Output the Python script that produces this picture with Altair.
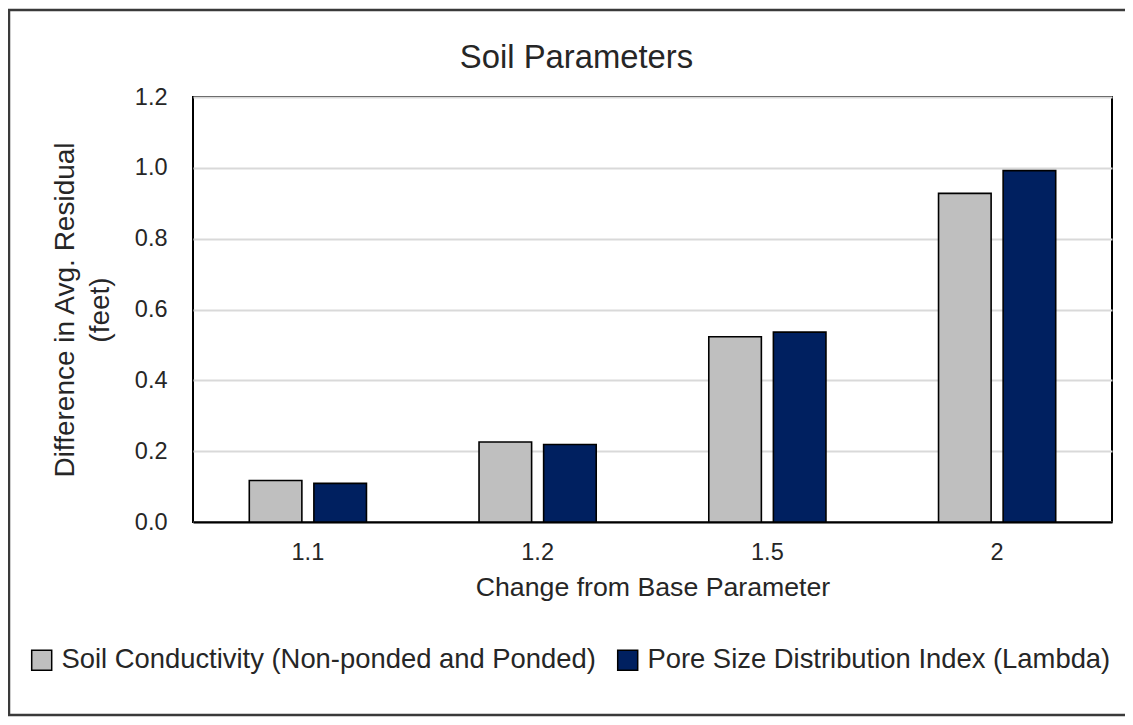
import altair as alt
import pandas as pd

categories = ["1.1", "1.2", "1.5", "2"]
series_names = ["Soil Conductivity (Non-ponded and Ponded)",
                "Pore Size Distribution Index (Lambda)"]
soil_conductivity = [0.117, 0.226, 0.523, 0.928]
pore_size_index = [0.109, 0.219, 0.536, 0.992]
y_ticks = [0.0, 0.2, 0.4, 0.6, 0.8, 1.0, 1.2]
colors = ["#BFBFBF", "#002060"]

rows = []
for i, c in enumerate(categories):
    rows.append({"Change": c, "Series": series_names[0], "Value": soil_conductivity[i]})
    rows.append({"Change": c, "Series": series_names[1], "Value": pore_size_index[i]})
df = pd.DataFrame(rows)

FONT = "Liberation Sans"
TXT = "#262626"

bars = alt.Chart(df).mark_bar(stroke="black", strokeWidth=1.6).encode(
    x=alt.X("Change:N", sort=categories,
            scale=alt.Scale(paddingInner=0.49, paddingOuter=0.245),
            axis=alt.Axis(title="Change from Base Parameter", labelAngle=0,
                          labelFontSize=23.5, labelPadding=18, labelColor=TXT,
                          ticks=False, domainColor="black", domainWidth=2,
                          titleFontSize=26.7, titleFontWeight="normal", titleColor=TXT,
                          titleBaseline="alphabetic", titleY=73, grid=False)),
    xOffset=alt.XOffset("Series:N", sort=series_names,
                        scale=alt.Scale(paddingInner=0.186, paddingOuter=0)),
    y=alt.Y("Value:Q",
            scale=alt.Scale(domain=[0, 1.2], nice=False),
            axis=alt.Axis(values=y_ticks, format=".1f", labelFontSize=23.5,
                          labelPadding=26, labelColor=TXT, ticks=False, domain=False,
                          grid=True, gridColor="#D9D9D9", gridWidth=2,
                          title=["Difference in Avg. Residual", "(feet)"],
                          titleFontSize=28, titleFontWeight="normal", titleColor=TXT,
                          titleAngle=270, titleX=-128, titleY=212.5,
                          titleBaseline="middle", titleAlign="center",
                          titleLineHeight=35)),
    color=alt.Color("Series:N", sort=series_names,
                    scale=alt.Scale(domain=series_names, range=colors),
                    legend=alt.Legend(title=None, orient="none", legendX=-165, legendY=549,
                                      direction="horizontal", symbolType="square",
                                      symbolSize=400, symbolStrokeColor="black",
                                      symbolStrokeWidth=1.5, labelFontSize=27.4,
                                      labelColor=TXT, labelLimit=2000, labelOffset=6,
                                      columnPadding=18)),
)

border = alt.Chart(alt.Data(values=[{}])).mark_rect(
    filled=False, stroke="#3a3a3a", strokeWidth=2.5
).encode(
    x=alt.value(-184), x2=alt.value(980), y=alt.value(-87), y2=alt.value(618)
)

chart = alt.layer(bars, border).properties(
    width=919, height=425,
    autosize=alt.AutoSizeParams(type="none"),
    padding={"left": 185, "top": 89, "right": 13, "bottom": 195},
    title=alt.TitleParams("Soil Parameters", fontSize=32.8, font=FONT, fontWeight="normal",
                          color=TXT, anchor="middle", dx=-76, offset=-66),
).configure(font=FONT).configure_view(stroke="black", strokeWidth=2)

chart.save("out.html", embed_options={"renderer": "svg", "actions": False})
